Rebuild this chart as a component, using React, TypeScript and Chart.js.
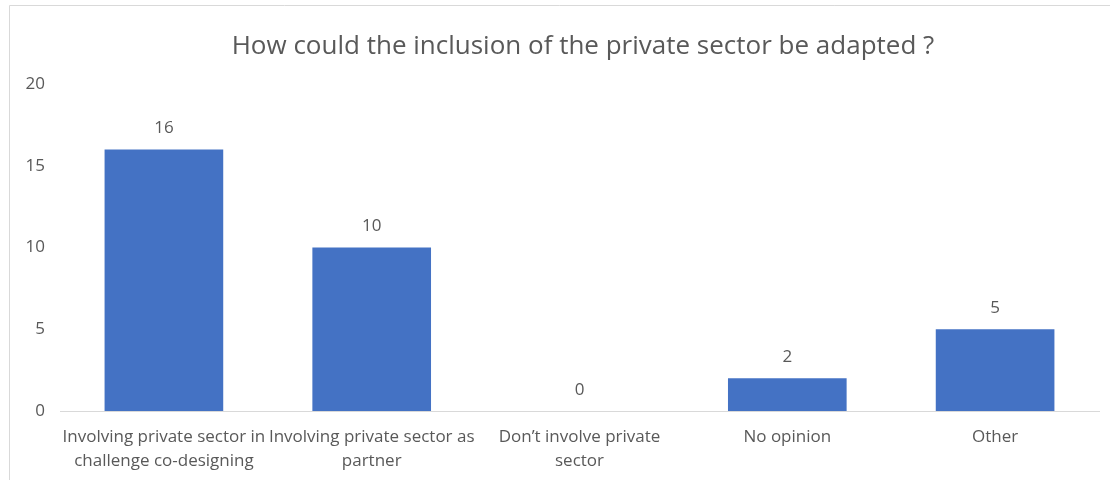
import React, { useEffect, useRef } from "react";
import { Chart, registerables } from "chart.js";

Chart.register(...registerables);

const TITLE = "How could the inclusion of the private sector be adapted ?";
const CATEGORIES: string[][] = [
  ["Involving private sector in", "challenge co-designing"],
  ["Involving private sector as", "partner"],
  ["Don\u2019t involve private", "sector"],
  ["No opinion"],
  ["Other"],
];
const VALUES: number[] = [16, 10, 0, 2, 5];
const Y_TICKS: number[] = [0, 5, 10, 15, 20];

const FONT = "'Open Sans', sans-serif";
const TEXT = "#595959";

const frame = {
  id: "frame",
  beforeDraw(chart: any) {
    const ctx = chart.ctx;
    ctx.save();
    ctx.fillStyle = "#ffffff";
    ctx.fillRect(0, 0, chart.width, chart.height);
    ctx.strokeStyle = "#d9d9d9";
    ctx.lineWidth = 1;
    ctx.beginPath();
    ctx.moveTo(9.5, chart.height);
    ctx.lineTo(9.5, 5.5);
    ctx.lineTo(chart.width, 5.5);
    ctx.stroke();
    ctx.fillStyle = TEXT;
    ctx.font = `26px ${FONT}`;
    ctx.textAlign = "center";
    ctx.textBaseline = "middle";
    ctx.fillText(TITLE, 583, 47);
    ctx.restore();
  },
};

const valueLabels = {
  id: "valueLabels",
  afterDatasetsDraw(chart: any) {
    const ctx = chart.ctx;
    const meta = chart.getDatasetMeta(0);
    const data = chart.data.datasets[0].data;
    ctx.save();
    ctx.fillStyle = TEXT;
    ctx.font = `17px ${FONT}`;
    ctx.textAlign = "center";
    ctx.textBaseline = "middle";
    meta.data.forEach((bar: any, i: number) => {
      ctx.fillText(String(data[i]), bar.x, bar.y - 21);
    });
    ctx.restore();
  },
};

export default function App() {
  const ref = useRef<HTMLCanvasElement | null>(null);
  useEffect(() => {
    if (!ref.current) return;
    const chart = new Chart(ref.current, {
      type: "bar",
      data: {
        labels: CATEGORIES,
        datasets: [
          {
            data: VALUES,
            backgroundColor: "#4472C4",
            borderWidth: 0,
            barPercentage: 0.571,
            categoryPercentage: 1,
          },
        ],
      },
      options: {
        animation: false,
        responsive: false,
        maintainAspectRatio: false,
        layout: { padding: { top: 84, right: 11, bottom: 0, left: 0 } },
        plugins: {
          legend: { display: false },
          tooltip: { enabled: false },
          title: { display: false },
        },
        scales: {
          x: {
            grid: { display: false, drawTicks: false },
            border: { display: true, color: "#d9d9d9", width: 1 },
            afterFit: (s: any) => {
              s.height = 69;
            },
            ticks: {
              color: TEXT,
              font: { family: FONT, size: 17, lineHeight: 24 / 17 },
              padding: 14,
              maxRotation: 0,
              autoSkip: false,
            },
          },
          y: {
            min: 0,
            max: 20,
            grid: { display: false, drawTicks: false },
            border: { display: false },
            afterFit: (s: any) => {
              s.width = 60;
            },
            afterBuildTicks: (s: any) => {
              s.ticks = Y_TICKS.map((v) => ({ value: v }));
            },
            ticks: {
              color: TEXT,
              font: { family: FONT, size: 17 },
              padding: 15,
            },
          },
        },
      },
      plugins: [frame, valueLabels],
    });
    return () => chart.destroy();
  }, []);
  return (
    <div style={{ position: "fixed", left: 0, top: 0, width: 1110, height: 480 }}>
      <canvas ref={ref} width={1110} height={480} style={{ width: 1110, height: 480 }} />
    </div>
  );
}
